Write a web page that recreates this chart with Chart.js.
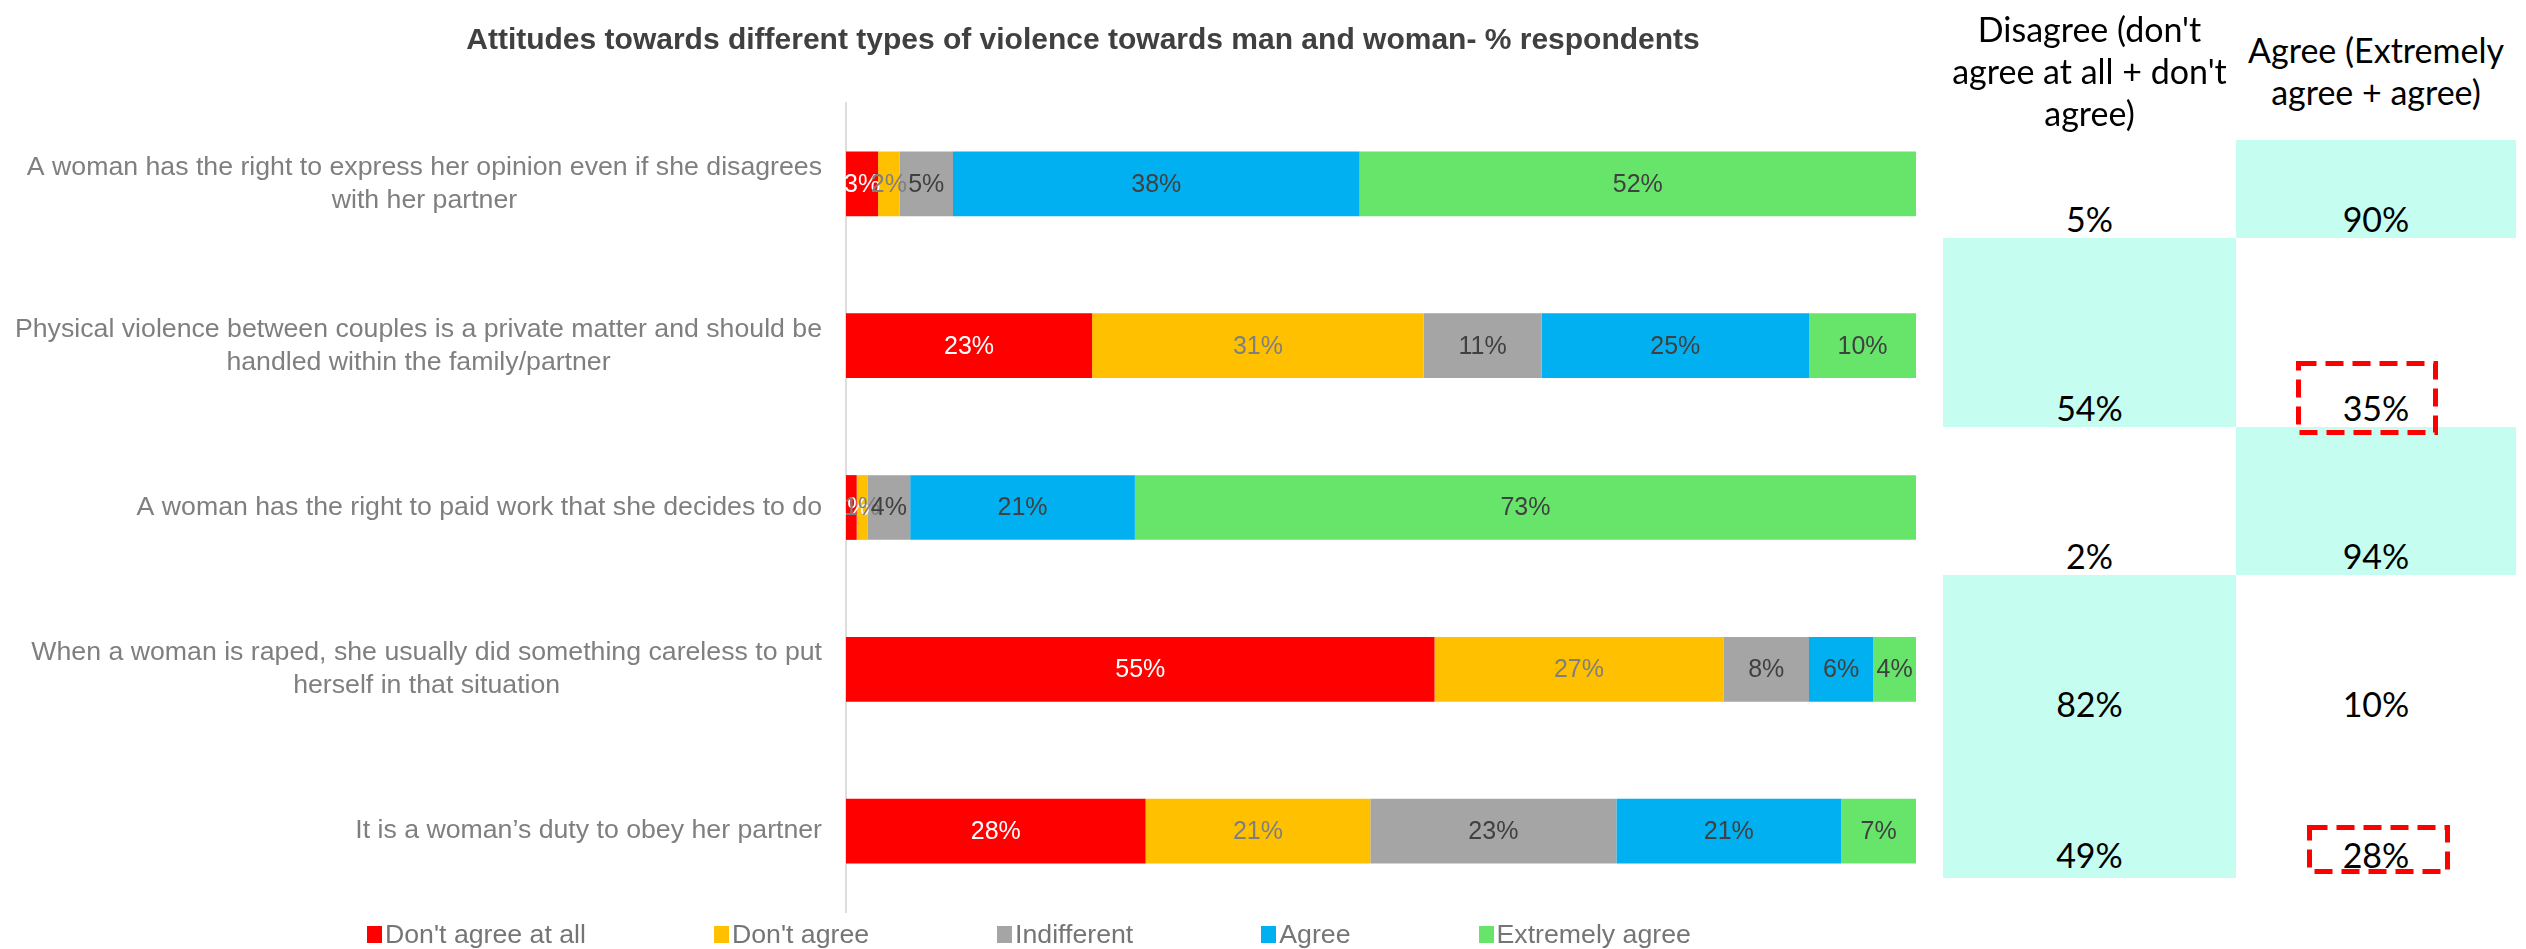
<!DOCTYPE html>
<html>
<head>
<meta charset="utf-8">
<script src="https://cdn.jsdelivr.net/npm/chart.js@4"></script>
<style>
    body { margin: 0; background: #fff; width: 2526px; height: 949px; position: relative; overflow: hidden; }
    #chartCanvas { position: absolute; left: 0; top: 0; }
    .title { position: absolute; left: 0; width: 2166px; top: 22px; text-align: center; font: bold 30px "Liberation Sans", Arial, sans-serif; color: #404040; white-space: nowrap; }
    .legend { position: absolute; left: 367px; top: 919px; display: flex; align-items: center; font: 26.7px "Liberation Sans", Arial, sans-serif; color: #757575; white-space: nowrap; }
    .legend-item { display: flex; align-items: center; margin-right: 128px; }
    .legend-box { width: 15px; height: 17px; margin-right: 3px; }
    .cell { position: absolute; }
    .cyan { background: #C6FDF1; }
    .head { position: absolute; text-align: center; font: 34px Lato, "Open Sans", sans-serif; line-height: 42px; color: #000; white-space: nowrap; }
    .value { position: absolute; width: 200px; margin-left: -100px; text-align: center; font: 34px Lato, "Open Sans", sans-serif; line-height: 40px; margin-top: -20px; color: #000; }
    #flags { position: absolute; left: 0; top: 0; }
</style>
</head>
<body>
<canvas id="chartCanvas" width="1930" height="949"></canvas>
<div class="title" id="title"></div>
<div class="legend" id="legend"></div>
<div id="table"></div>
<svg id="flags" width="2526" height="949"></svg>

<script>
const chartTitle = 'Attitudes towards different types of violence towards man and woman- % respondents';

const categories = [
    ['A woman has the right to express her opinion even if she disagrees', 'with her partner'],
    ['Physical violence between couples is a private matter and should be', 'handled within the family/partner'],
    ['A woman has the right to paid work that she decides to do'],
    ['When a woman is raped, she usually did something careless to put', 'herself in that situation'],
    ['It is a woman\u2019s duty to obey her partner']
];

const seriesNames = ["Don't agree at all", "Don't agree", 'Indifferent', 'Agree', 'Extremely agree'];
const dontAgreeAtAll = [3, 23, 1, 55, 28];
const dontAgree = [2, 31, 1, 27, 21];
const indifferent = [5, 11, 4, 8, 23];
const agree = [38, 25, 21, 6, 21];
const extremelyAgree = [52, 10, 73, 4, 7];

const seriesColors = ['#FF0000', '#FFC000', '#A5A5A5', '#00B0F0', '#67E56A'];
const labelColors = ['#FFFFFF', '#7F7F7F', '#404040', '#404040', '#404040'];

const tableHeaders = ["Disagree (don't<br>agree at all + don't<br>agree)", 'Agree (Extremely<br>agree + agree)'];
const disagreeTotals = [5, 54, 2, 82, 49];
const agreeTotals = [90, 35, 94, 10, 28];
const flaggedRows = [1, 4];

// table layout (pixels)
const colEdges = [1943, 2236, 2516];
const rowEdges = [140, 238, 427, 575, 727, 878];
const valueY = [219, 408, 556, 704, 855];
const flagBoxes = [[2296, 361, 142, 74], [2307, 825, 143, 49]];

const yLabelPlugin = {
    id: 'yLabels',
    afterDraw(chart) {
        const { ctx, chartArea, scales: { y } } = chart;
        ctx.save();
        ctx.font = '26.7px "Liberation Sans", Arial, sans-serif';
        ctx.fillStyle = '#7F7F7F';
        ctx.textAlign = 'center';
        ctx.textBaseline = 'middle';
        categories.forEach((lines, i) => {
            const yc = y.getPixelForValue(i);
            const w = Math.max(...lines.map(l => ctx.measureText(l).width));
            const cx = chartArea.left - 24 - w / 2;
            lines.forEach((line, j) => {
                ctx.fillText(line, cx, yc + (j - (lines.length - 1) / 2) * 33);
            });
        });
        ctx.restore();
    }
};

const barLabelPlugin = {
    id: 'barLabels',
    afterDatasetsDraw(chart) {
        const ctx = chart.ctx;
        ctx.save();
        ctx.font = '25px "Liberation Sans", Arial, sans-serif';
        ctx.textAlign = 'center';
        ctx.textBaseline = 'middle';
        chart.data.datasets.forEach((ds, di) => {
            chart.getDatasetMeta(di).data.forEach((bar, i) => {
                ctx.fillStyle = labelColors[di];
                ctx.fillText(ds.data[i] + '%', (bar.x + bar.base) / 2, bar.y + 1);
            });
        });
        ctx.restore();
    }
};

function buildChart() {
    const series = [dontAgreeAtAll, dontAgree, indifferent, agree, extremelyAgree];
    const ctx = document.getElementById('chartCanvas').getContext('2d');
    new Chart(ctx, {
        type: 'bar',
        data: {
            labels: categories.map(c => c.join(' ')),
            datasets: series.map((data, i) => ({
                label: seriesNames[i],
                data: data,
                backgroundColor: seriesColors[i],
                borderWidth: 0,
                barPercentage: 0.4,
                categoryPercentage: 1
            }))
        },
        options: {
            indexAxis: 'y',
            responsive: false,
            animation: false,
            layout: { padding: { top: 103, bottom: 37, right: 14, left: 0 } },
            plugins: {
                legend: { display: false },
                title: { display: false },
                tooltip: { enabled: false }
            },
            scales: {
                x: { stacked: true, min: 0, max: 100, display: false },
                y: {
                    stacked: true,
                    grid: { display: false, drawTicks: false },
                    ticks: { display: false },
                    border: { display: true, color: '#DDDDDD', width: 2 },
                    afterFit(scale) { scale.width = 846; }
                }
            }
        },
        plugins: [yLabelPlugin, barLabelPlugin]
    });
}

function buildLegend() {
    document.getElementById('title').textContent = chartTitle;
    document.getElementById('legend').innerHTML = seriesNames.map((name, i) => `
        <div class="legend-item"><div class="legend-box" style="background:${seriesColors[i]}"></div>${name}</div>
    `).join('');
}

function buildTable() {
    let html = '';
    const colW = [colEdges[1] - colEdges[0], colEdges[2] - colEdges[1]];
    html += `<div class="head" style="left:${colEdges[0]}px;width:${colW[0]}px;top:8px">${tableHeaders[0]}</div>`;
    html += `<div class="head" style="left:${colEdges[1]}px;width:${colW[1]}px;top:29px">${tableHeaders[1]}</div>`;
    disagreeTotals.forEach((d, i) => {
        const a = agreeTotals[i];
        const col = d > a ? 0 : 1;
        html += `<div class="cell cyan" style="left:${colEdges[col]}px;width:${colW[col]}px;top:${rowEdges[i]}px;height:${rowEdges[i + 1] - rowEdges[i]}px"></div>`;
        html += `<div class="value" style="left:${(colEdges[0] + colEdges[1]) / 2}px;top:${valueY[i]}px">${d}%</div>`;
        html += `<div class="value" style="left:${(colEdges[1] + colEdges[2]) / 2}px;top:${valueY[i]}px">${a}%</div>`;
    });
    document.getElementById('table').innerHTML = html;

    // red dashed boxes round the flagged agree values
    document.getElementById('flags').innerHTML = flaggedRows.map((r, k) => {
        const [x, y, w, h] = flagBoxes[k];
        return `<rect x="${x + 2.5}" y="${y + 2.5}" width="${w - 5}" height="${h - 5}" fill="none" stroke="#FF0000" stroke-width="5" stroke-dasharray="18 9"/>`;
    }).join('');
}

document.addEventListener('DOMContentLoaded', () => {
    buildChart();
    buildLegend();
    buildTable();
});
</script>
</body>
</html>
